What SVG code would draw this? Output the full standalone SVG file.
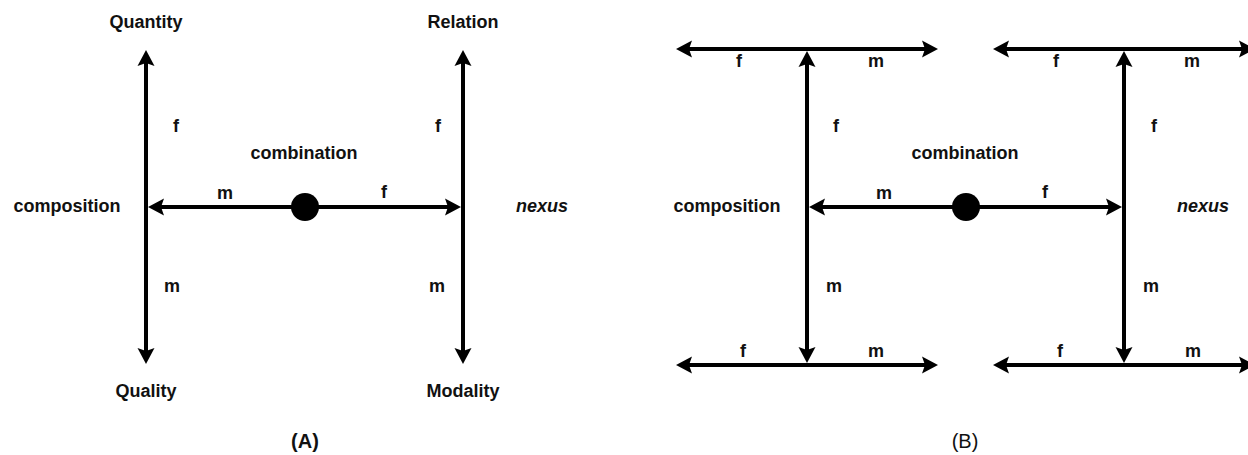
<svg xmlns="http://www.w3.org/2000/svg" width="1248" height="455" viewBox="0 0 1248 455">
<style>
text{font-family:"Liberation Sans",Arial,sans-serif;font-weight:bold;font-size:18px;fill:#111;text-anchor:middle}
.it{font-style:italic}
.cap{font-size:20px}
.reg{font-weight:normal}
.ln{stroke:#000;stroke-width:4;fill:none;marker-end:url(#ah)}
.ln2{stroke:#000;stroke-width:4;fill:none;marker-start:url(#ah);marker-end:url(#ah)}
</style>
<defs>
<marker id="ah" markerUnits="userSpaceOnUse" markerWidth="20" markerHeight="20" viewBox="0 -10 20 20" refX="10" refY="0" orient="auto-start-reverse">
<path d="M16,0 L0,-8.5 L3,0 L0,8.5 Z" fill="#000"/>
</marker>
</defs>
<g id="connectors">
<!-- Panel A -->
<line class="ln2" x1="146" y1="56" x2="146" y2="358"/>
<line class="ln2" x1="463" y1="56" x2="463" y2="358"/>
<line class="ln" x1="305" y1="207" x2="154" y2="207"/>
<line class="ln" x1="305" y1="207" x2="455" y2="207"/>
<!-- Panel B -->
<line class="ln2" x1="682" y1="49" x2="932" y2="49"/>
<line class="ln2" x1="682" y1="365" x2="932" y2="365"/>
<line class="ln" x1="807" y1="207" x2="807" y2="57"/>
<line class="ln" x1="807" y1="207" x2="807" y2="357"/>
<line class="ln2" x1="999" y1="49" x2="1249" y2="49"/>
<line class="ln2" x1="999" y1="365" x2="1249" y2="365"/>
<line class="ln" x1="1124" y1="207" x2="1124" y2="57"/>
<line class="ln" x1="1124" y1="207" x2="1124" y2="357"/>
<line class="ln" x1="966" y1="207" x2="815" y2="207"/>
<line class="ln" x1="966" y1="207" x2="1116" y2="207"/>
</g>
<g id="dotA"><circle cx="305" cy="207" r="14" fill="#000"/></g>
<g id="dotB"><circle cx="966" cy="207" r="14" fill="#000"/></g>
<g id="labelsA">
<text x="146" y="28">Quantity</text>
<text x="463" y="28">Relation</text>
<text x="146" y="397">Quality</text>
<text x="463" y="397">Modality</text>
<text x="67" y="212">composition</text>
<text class="it" x="542" y="212">nexus</text>
<text x="304" y="159">combination</text>
<text x="176" y="132">f</text>
<text x="438" y="132">f</text>
<text x="172" y="292">m</text>
<text x="437" y="292">m</text>
<text x="225" y="199">m</text>
<text x="384" y="198">f</text>
<text class="cap" x="305" y="448">(A)</text>
</g>
<g id="labelsB">
<text x="739" y="67">f</text>
<text x="876" y="67">m</text>
<text x="1056" y="67">f</text>
<text x="1192" y="67">m</text>
<text x="743" y="357">f</text>
<text x="876" y="357">m</text>
<text x="1060" y="357">f</text>
<text x="1193" y="357">m</text>
<text x="836" y="132">f</text>
<text x="1154" y="132">f</text>
<text x="834" y="292">m</text>
<text x="1151" y="292">m</text>
<text x="727" y="212">composition</text>
<text x="965" y="159">combination</text>
<text class="it" x="1203" y="212">nexus</text>
<text x="884" y="199">m</text>
<text x="1045" y="198">f</text>
<text class="cap reg" x="965" y="448">(B)</text>
</g>
</svg>
